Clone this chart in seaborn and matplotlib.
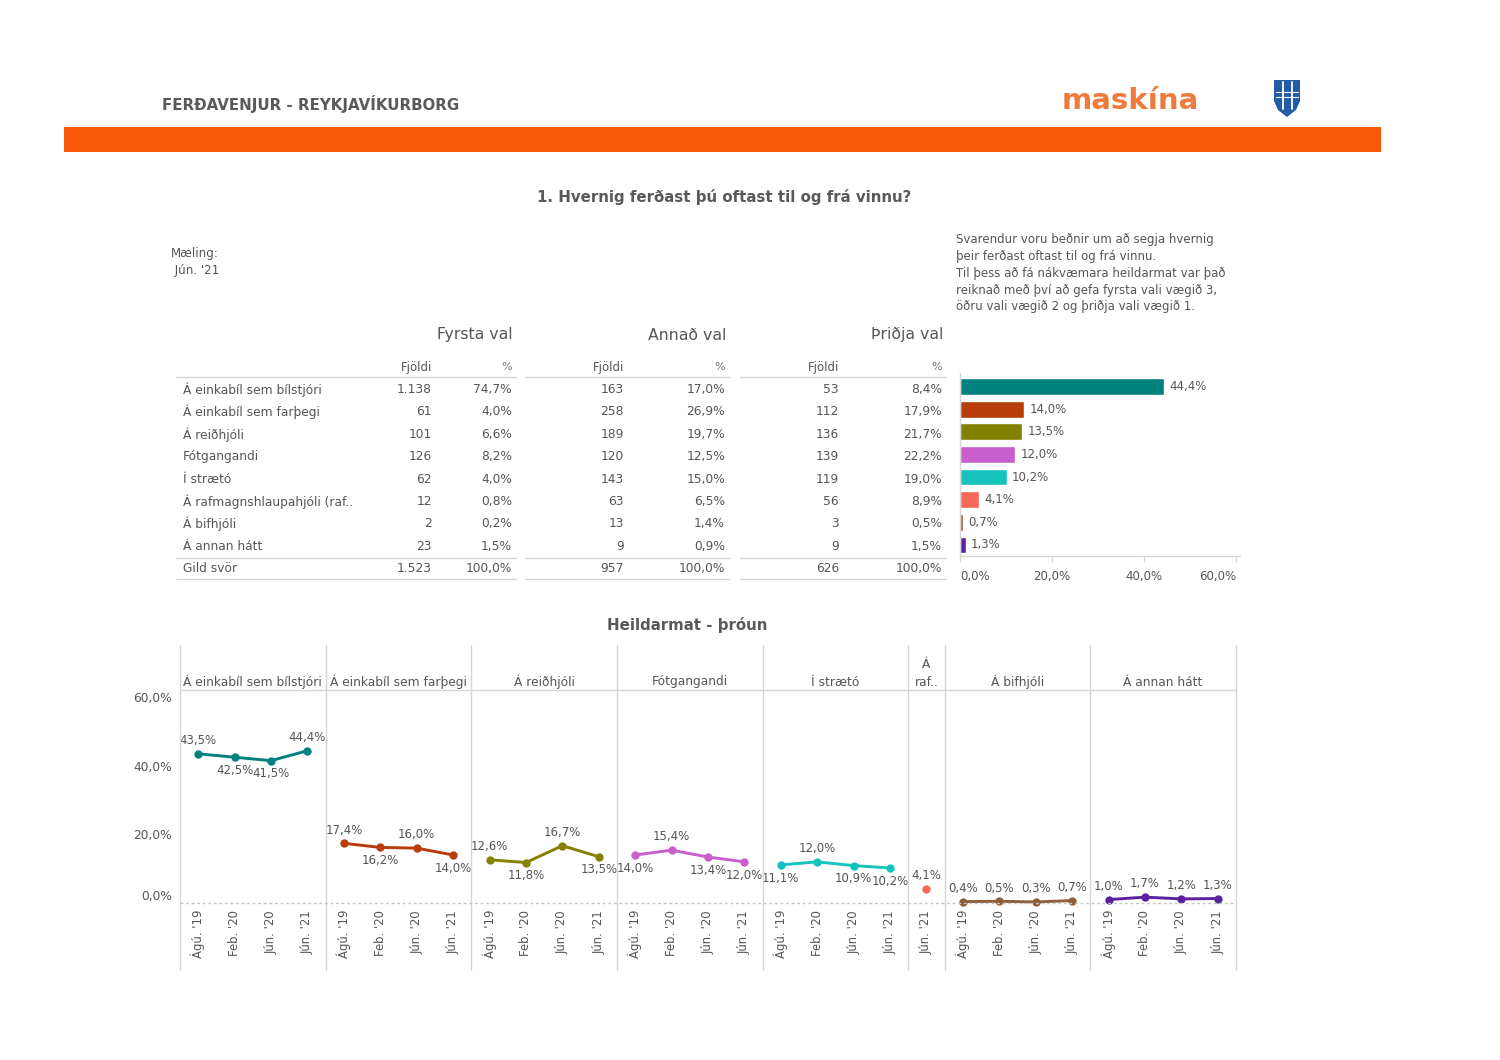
import matplotlib
matplotlib.use('Agg')
import matplotlib.pyplot as plt
import seaborn as sns
import numpy as np
import pandas as pd
from matplotlib.lines import Line2D
from matplotlib.patches import Rectangle, Polygon

sns.set_theme(style='white')
plt.rcParams['font.family'] = ['DejaVu Sans']

# ---------------- data ----------------
categories = ['Á einkabíl sem bílstjóri', 'Á einkabíl sem farþegi', 'Á reiðhjóli',
              'Fótgangandi', 'Í strætó', 'Á rafmagnshlaupahjóli (raf..', 'Á bifhjóli',
              'Á annan hátt']
total_label = 'Gild svör'
group_titles = ['Fyrsta val', 'Annað val', 'Þriðja val']
first_n = [1138, 61, 101, 126, 62, 12, 2, 23]
first_pct = [74.7, 4.0, 6.6, 8.2, 4.0, 0.8, 0.2, 1.5]
second_n = [163, 258, 189, 120, 143, 63, 13, 9]
second_pct = [17.0, 26.9, 19.7, 12.5, 15.0, 6.5, 1.4, 0.9]
third_n = [53, 112, 136, 139, 119, 56, 3, 9]
third_pct = [8.4, 17.9, 21.7, 22.2, 19.0, 8.9, 0.5, 1.5]
totals_n = [1523, 957, 626]
totals_pct = [100.0, 100.0, 100.0]
weighted = [44.4, 14.0, 13.5, 12.0, 10.2, 4.1, 0.7, 1.3]
bar_ticks = [0, 20, 40, 60]

periods = ["Ágú. '19", "Feb. '20", "Jún. '20", "Jún. '21"]
raf_periods = ["Jún. '21"]
trend_bilstjori = [43.5, 42.5, 41.5, 44.4]
trend_farthegi = [17.4, 16.2, 16.0, 14.0]
trend_reidhjoli = [12.6, 11.8, 16.7, 13.5]
trend_fotgangandi = [14.0, 15.4, 13.4, 12.0]
trend_straeto = [11.1, 12.0, 10.9, 10.2]
trend_raf = [4.1]
trend_bifhjoli = [0.4, 0.5, 0.3, 0.7]
trend_annan = [1.0, 1.7, 1.2, 1.3]
panel_titles = ['Á einkabíl sem bílstjóri', 'Á einkabíl sem farþegi', 'Á reiðhjóli',
                'Fótgangandi', 'Í strætó', 'Á\nraf..', 'Á bifhjóli', 'Á annan hátt']
line_ticks = [0, 20, 40, 60]

header_title = 'FERÐAVENJUR - REYKJAVÍKURBORG'
question = '1. Hvernig ferðast þú oftast til og frá vinnu?'
trend_title = 'Heildarmat - þróun'
maeling = ['Mæling:', " Jún. '21"]
note_lines = ['Svarendur voru beðnir um að segja hvernig',
              'þeir ferðast oftast til og frá vinnu.',
              'Til þess að fá nákvæmara heildarmat var það',
              'reiknað með því að gefa fyrsta vali vægið 3,',
              'öðru vali vægið 2 og þriðja vali vægið 1.']

# ---------------- style ----------------
colors = ['#00807E', '#B83D0B', '#858100', '#C95FCC', '#15C3BC', '#F7685C', '#8E5E3A', '#5B22A0']
label_side = [[1, -1, -1, 1], [1, -1, 1, -1], [1, -1, 1, -1], [-1, 1, -1, -1],
              [-1, 1, -1, -1], [1], [1, 1, 1, 1], [1, 1, 1, 1]]
TXT = '#555555'
RULE = '#d6d6d6'

W, H = 1500, 1060
fig = plt.figure(figsize=(15, 10.6), dpi=100)
fig.patch.set_facecolor('white')


def fx(x):
    return x / W


def fy(y):
    return 1 - y / H


def ptxt(x, y, s, **kw):
    kw.setdefault('color', TXT)
    kw.setdefault('fontsize', 8.8)
    kw.setdefault('va', 'center')
    return fig.text(fx(x), fy(y), s, **kw)


def hline(x0, x1, y, **kw):
    kw.setdefault('color', RULE)
    kw.setdefault('lw', 1)
    fig.add_artist(Line2D([fx(x0), fx(x1)], [fy(y), fy(y)], transform=fig.transFigure, **kw))


def vline(x, y0, y1, **kw):
    kw.setdefault('color', RULE)
    kw.setdefault('lw', 1)
    fig.add_artist(Line2D([fx(x), fx(x)], [fy(y0), fy(y1)], transform=fig.transFigure, **kw))


def fmt_n(n):
    return f'{n:,}'.replace(',', '.')


def fmt_p(p):
    return f'{p:.1f}%'.replace('.', ',')


# ---------------- header ----------------
ptxt(162, 104, header_title, fontsize=10.8, weight='bold', color='#595959')
ptxt(1062, 101, 'maskína', fontsize=21, weight='bold', color='#EE7A3B')
shield = [(1274, 80), (1300, 80), (1300, 101), (1296, 110), (1287, 117), (1278, 110), (1274, 101)]
fig.add_artist(Polygon([(fx(a), fy(b)) for a, b in shield], closed=True, transform=fig.transFigure,
                       facecolor='#245BA7', edgecolor='none'))
for sx in (1282.5, 1291.5):
    vline(sx, 82, 109, color='white', lw=1.3)
for sy in (92, 97):
    hline(1276, 1298, sy, color='white', lw=0.8)
fig.add_artist(Rectangle((fx(64), fy(152)), (1381 - 64) / W, 25 / H, transform=fig.transFigure,
                         facecolor='#F85A0A', edgecolor='none'))

ptxt(724, 197, question, fontsize=10.8, weight='bold', ha='center', color='#595959')
ptxt(171, 253, maeling[0], fontsize=8.6)
ptxt(171, 270, maeling[1], fontsize=8.6)
for k, line in enumerate(note_lines):
    ptxt(956, 240 + k * 16.7, line, fontsize=8.5)

# ---------------- table ----------------
groups = [(group_titles[0], first_n, first_pct, 432, 512),
          (group_titles[1], second_n, second_pct, 624, 725),
          (group_titles[2], third_n, third_pct, 839, 942)]
row_y0, row_dy = 389.5, 22.4
for g, (gt, ns, ps, xn, xp) in enumerate(groups):
    ptxt(xp + 1, 335, gt, fontsize=11.3, ha='right')
    ptxt(xn, 367, 'Fjöldi', fontsize=8.5, ha='right')
    ptxt(xp, 367, '%', fontsize=8.0, ha='right', color='#777777')
    for i in range(len(categories)):
        y = row_y0 + i * row_dy
        ptxt(xn, y, fmt_n(ns[i]), ha='right')
        ptxt(xp, y, fmt_p(ps[i]), ha='right')
    y = row_y0 + len(categories) * row_dy
    ptxt(xn, y, fmt_n(totals_n[g]), ha='right')
    ptxt(xp, y, fmt_p(totals_pct[g]), ha='right')
for i, cat in enumerate(categories):
    ptxt(183, row_y0 + i * row_dy, cat)
ptxt(183, row_y0 + len(categories) * row_dy, total_label)
for x0, x1 in [(176, 516), (525, 729), (740, 946)]:
    for y in (377, 557.5, 579):
        hline(x0, x1, y)

# ---------------- bar chart ----------------
axb = fig.add_axes([fx(960), fy(556), 280 / W, 183 / H])
sns.barplot(x=weighted, y=categories, hue=categories, palette=colors, legend=False,
            orient='h', width=0.74, ax=axb, saturation=1)
axb.set_xlim(0, 60.8)
axb.set_ylim(7.49, -0.6)
axb.set_yticks([])
axb.set_xticks(bar_ticks)
axb.set_xticklabels([fmt_p(t) for t in bar_ticks])
axb.tick_params(axis='x', length=4, width=0.8, color=RULE, pad=6, labelsize=8.5, labelcolor=TXT,
                bottom=True, direction='out')
tl = axb.get_xticklabels()
tl[0].set_ha('left')
tl[-1].set_ha('right')
for s in ('top', 'right'):
    axb.spines[s].set_visible(False)
for s in ('left', 'bottom'):
    axb.spines[s].set_color(RULE)
    axb.spines[s].set_linewidth(1)
axb.set_xlabel('')
axb.set_ylabel('')
for i, v in enumerate(weighted):
    axb.text(v + 1.1, i, fmt_p(v), va='center', ha='left', fontsize=8.5, color=TXT)

# ---------------- trend panels ----------------
ptxt(687, 625, trend_title, fontsize=10.8, weight='bold', ha='center', color='#595959')
panel_periods = [periods, periods, periods, periods, periods, raf_periods, periods, periods]
panel_values = [trend_bilstjori, trend_farthegi, trend_reidhjoli, trend_fotgangandi,
                trend_straeto, trend_raf, trend_bifhjoli, trend_annan]
P_L, P_R, P_T, P_B = 180, 1236, 690, 903
unit = (P_R - P_L) / sum(len(p) for p in panel_periods)
left = P_L
bounds = [left]
for i, (title, per, vals) in enumerate(zip(panel_titles, panel_periods, panel_values)):
    w = unit * len(per)
    ax = fig.add_axes([fx(left), fy(P_B), w / W, (P_B - P_T) / H])
    sns.pointplot(x=per, y=vals, order=per, color=colors[i], ax=ax, errorbar=None,
                  markersize=4.4, linewidth=2.1)
    for ln in ax.lines:
        ln.set_clip_on(False)
    for coll in ax.collections:
        coll.set_clip_on(False)
    ax.set_xlim(-0.5, len(per) - 0.5)
    ax.set_ylim(0, 62.1)
    for s in ax.spines.values():
        s.set_visible(False)
    ax.set_facecolor('none')
    ax.set_xlabel('')
    ax.set_ylabel('')
    ax.tick_params(axis='x', length=0, pad=5, labelsize=8.4, labelcolor=TXT, labelrotation=90)
    if i == 0:
        ax.set_yticks(line_ticks)
        ax.set_yticklabels([fmt_p(t) for t in line_ticks])
        ax.tick_params(axis='y', length=0, pad=6, labelsize=8.8, labelcolor=TXT)
        ax.get_yticklabels()[0].set_va('bottom')
    else:
        ax.set_yticks([])
    for j, v in enumerate(vals):
        ax.annotate(fmt_p(v), (j, v), xytext=(0, 9.5 * label_side[i][j]), textcoords='offset points',
                    ha='center', va='center', fontsize=8.5, color=TXT, annotation_clip=False)
    lines_n = title.count('\n') + 1
    ptxt(left + w / 2, 682 - (lines_n - 1) * 8.5, title, ha='center', fontsize=8.8, linespacing=1.45)
    left += w
    bounds.append(left)

for b in bounds:
    vline(b, 645, 970)
hline(P_L, P_R, P_T)
hline(P_L, P_R, P_B, color='#c4c4c4', ls=(0, (2, 2)))

fig.savefig('out.png', dpi=100, facecolor='white')
